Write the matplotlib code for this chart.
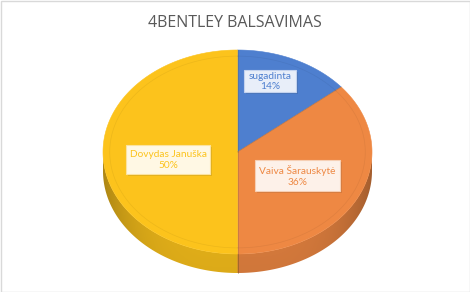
import numpy as np
import matplotlib
matplotlib.use("Agg")
import matplotlib.pyplot as plt
from matplotlib.patches import Polygon, Rectangle
from matplotlib.colors import to_rgb

# Vote shares
labels = ["sugadinta", "Vaiva Šarauskytė", "Dovydas Januška"]
values = [14, 36, 50]
colors = ["#4E7FCF", "#EE8843", "#FCC31C"]
box_fills = ["#E8EEF9", "#FDF1E9", "#FFF8E4"]
box_edges = ["#C3D2EE", "#F6CFB4", "#FBE3A0"]
title = "4BENTLEY BALSAVIMAS"

W, H = 470, 292
fig = plt.figure(figsize=(W / 100, H / 100), dpi=100)
ax = fig.add_axes([0, 0, 1, 1])
ax.set_xlim(0, W)
ax.set_ylim(H, 0)
ax.axis("off")

# pie geometry (pixel units, y downwards)
cx, cy = 237.5, 152.0
rx, ry = 134.5, 102.0
depth = 19.0


def pt(theta_deg, sx=1.0, sy=1.0):
    t = np.radians(theta_deg)
    return cx + rx * sx * np.sin(t), cy - ry * sy * np.cos(t)


def shade(c, f):
    r, g, b = to_rgb(c)
    return (r * f, g * f, b * f)


total = float(sum(values))
bounds = np.concatenate([[0.0], np.cumsum(values) / total * 360.0])

# side wall of the front half: a shaded image clipped to the wall outline
nx, ny = 600, 60
xs_img = np.linspace(cx - rx, cx + rx, nx)
s = np.clip((xs_img - cx) / rx, -1, 1)
theta = 180.0 - np.degrees(np.arcsin(s))
idx = np.clip(np.searchsorted(bounds, theta, side="right") - 1, 0, len(values) - 1)
base = np.array([to_rgb(colors[k]) for k in idx])
fac = 0.94 - 0.24 * np.abs(s) ** 4
col = base * fac[:, None]
vert = np.linspace(1.0, 0.93, ny)
img = vert[:, None, None] * col[None, :, :]
y_top, y_bot = cy, cy + ry + depth
im = ax.imshow(img, extent=(cx - rx, cx + rx, y_bot, y_top), origin="upper",
               interpolation="bilinear", aspect="auto", zorder=1)
tw = np.linspace(90, 270, 300)
wx, wy = pt(tw)
wall = list(zip(wx, wy)) + list(zip(wx[::-1], wy[::-1] + depth))
clip = Polygon(wall, closed=True, facecolor="none", edgecolor="none")
ax.add_patch(clip)
im.set_clip_path(clip)

# seam on the wall between slices
for b in bounds:
    if 90 < b < 270:
        x0, y0 = pt(b)
        ax.plot([x0, x0], [y0, y0 + depth], color=(0.4, 0.33, 0.1), lw=0.5, alpha=0.6, zorder=2)

# top surface of each slice
for i, c in enumerate(colors):
    a0, a1 = bounds[i], bounds[i + 1]
    ts = np.linspace(a0, a1, 200)
    xs, ys = pt(ts)
    poly = [(cx, cy)] + list(zip(xs, ys))
    ax.add_patch(Polygon(poly, closed=True, facecolor=c, edgecolor=c, linewidth=0.4, zorder=3))
    # soft bevel line just inside the rim
    bx, by = pt(ts, 0.95, 0.94)
    ax.plot(bx, by, color=shade(c, 0.8), lw=0.5, alpha=0.3, zorder=4)

# radial seams on the top surface
for b in bounds[:-1]:
    x0, y0 = pt(b)
    ax.plot([cx, x0], [cy, y0], color=(0.3, 0.3, 0.3), lw=0.5, alpha=0.3, zorder=4)

# data label boxes
label_centers = [(270, 81), (297.5, 175.5), (168, 159.5)]
box_sizes = [(52, 22), (85, 31), (84, 29)]
for lab, v, c, fc, ec, (x, y), (bw, bh) in zip(labels, values, colors, box_fills,
                                                 box_edges, label_centers, box_sizes):
    ax.add_patch(Rectangle((x - bw / 2 + 1.5, y - bh / 2 + 1.5), bw, bh,
                           facecolor="black", alpha=0.10, linewidth=0, zorder=5))
    ax.add_patch(Rectangle((x - bw / 2, y - bh / 2), bw, bh,
                           facecolor=fc, edgecolor=ec, linewidth=0.8, zorder=6))
    pct = f"{round(v / total * 100)}%"
    ax.text(x, y + 0.5, f"{lab}\n{pct}", ha="center", va="center", fontsize=7.3,
            family="Lato", color=c, linespacing=1.2, zorder=7)

# chart title
ax.text(235, 23, title, ha="center", va="center", fontsize=11.5,
        family="Open Sans", color="#595959", zorder=7)

# outer frame
ax.add_patch(Rectangle((0.5, 0.5), W - 1, H - 1, facecolor="none",
                       edgecolor="#D9D9D9", linewidth=1.0, zorder=8))

fig.savefig("out.png", dpi=100)
